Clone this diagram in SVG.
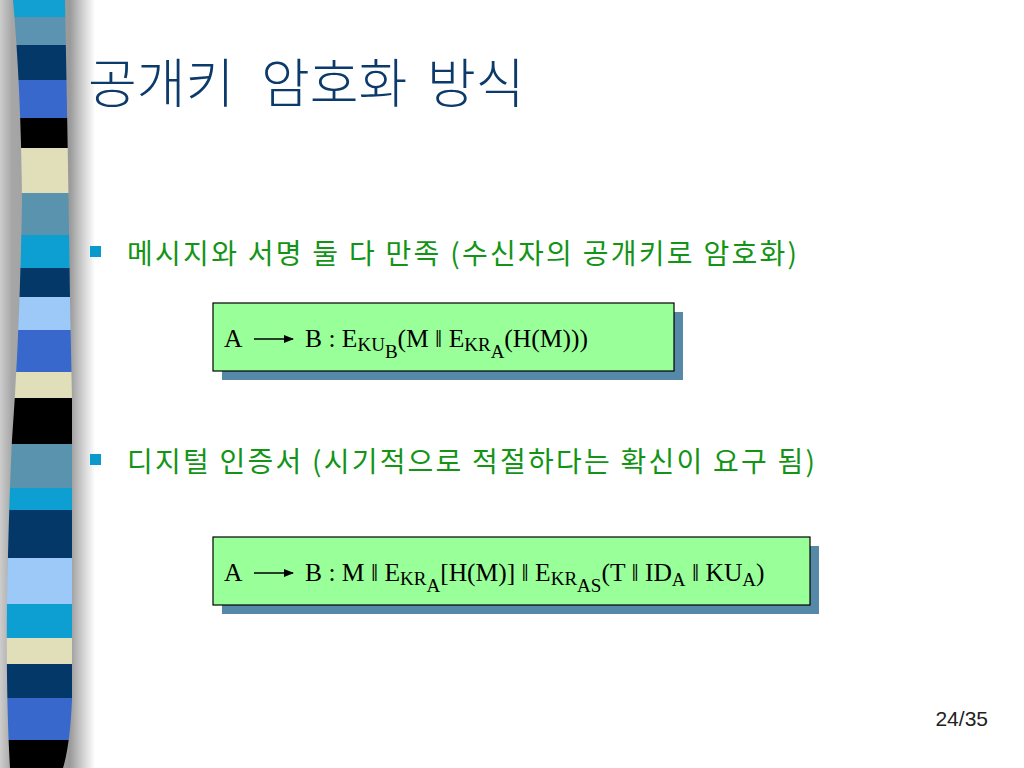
<svg xmlns="http://www.w3.org/2000/svg" width="1024" height="768" viewBox="0 0 1024 768">
<defs>
<linearGradient id="side" gradientUnits="userSpaceOnUse" x1="0" y1="0" x2="100" y2="0">
<stop offset="0" stop-color="#cdcdcd"/>
<stop offset="0.12" stop-color="#a6a6a6"/>
<stop offset="0.70" stop-color="#9a9a9a"/>
<stop offset="0.78" stop-color="#bdbdbd"/>
<stop offset="0.95" stop-color="#ffffff"/>
</linearGradient>
<clipPath id="stripClip">
<path d="M13,0 L65,0 Q68,150 70,300 L72,400 L72,700 Q70,745 63,768 L10,768 Q6,700 7,600 Q9,500 12,440 Q20,330 22,200 Q21,90 13,0 Z"/>
</clipPath>
<marker id="ah" viewBox="0 0 10 10" refX="9" refY="5" markerWidth="10" markerHeight="10" markerUnits="userSpaceOnUse" orient="auto">
<path d="M0,1 L10,5 L0,9 Z" fill="#000"/>
</marker>
<style>
.title{font-family:"Noto Sans CJK KR","Noto Sans",sans-serif;font-size:53px;fill:#0b3a6b;font-weight:300}
.bt{font-family:"Noto Sans CJK KR","Noto Sans",sans-serif;font-size:28px;fill:#139416}
.bul{fill:#0a99cc}
.box{fill:#99ff99;stroke:#000;stroke-width:1.2}
.shadow{fill:#5689a8}
.f{font-family:"Liberation Serif","Times New Roman",serif;font-size:25.5px;fill:#000}
.s{font-size:19px}
.m{font-size:25.5px}
.conn{stroke:#000;stroke-width:1.6;fill:none}
.pg{font-family:"Liberation Sans",Arial,sans-serif;font-size:21px;fill:#222}
</style>
</defs>
<rect width="1024" height="768" fill="#ffffff"/>
<g id="strip">
<rect x="0" y="0" width="100" height="768" fill="url(#side)"/>
<g clip-path="url(#stripClip)">
<rect x="0" y="0" width="80" height="17" fill="#12a0d3"/>
<rect x="0" y="17" width="80" height="28" fill="#5c93b0"/>
<rect x="0" y="45" width="80" height="35" fill="#043868"/>
<rect x="0" y="80" width="80" height="38" fill="#3868cc"/>
<rect x="0" y="118" width="80" height="30" fill="#000000"/>
<rect x="0" y="148" width="80" height="45" fill="#e1dfb9"/>
<rect x="0" y="193" width="80" height="42" fill="#5a93ad"/>
<rect x="0" y="235" width="80" height="33" fill="#0d9ed2"/>
<rect x="0" y="268" width="80" height="29" fill="#043868"/>
<rect x="0" y="297" width="80" height="33" fill="#9cc9f8"/>
<rect x="0" y="330" width="80" height="42" fill="#3868cc"/>
<rect x="0" y="372" width="80" height="26" fill="#e1dfb9"/>
<rect x="0" y="398" width="80" height="46" fill="#000000"/>
<rect x="0" y="444" width="80" height="44" fill="#5a93ad"/>
<rect x="0" y="488" width="80" height="22" fill="#0d9ed2"/>
<rect x="0" y="510" width="80" height="48" fill="#043868"/>
<rect x="0" y="558" width="80" height="46" fill="#9cc9f8"/>
<rect x="0" y="604" width="80" height="34" fill="#0d9ed2"/>
<rect x="0" y="638" width="80" height="26" fill="#e1dfb9"/>
<rect x="0" y="664" width="80" height="34" fill="#043868"/>
<rect x="0" y="698" width="80" height="42" fill="#3868cc"/>
<rect x="0" y="740" width="80" height="28" fill="#000000"/>
</g>
</g>
<g id="title">
<text class="title" x="88" y="103">공개키</text>
<text class="title" x="261" y="103">암호화</text>
<text class="title" x="427" y="103">방식</text>
</g>
<g id="bullet1">
<rect class="bul" x="90" y="246" width="11" height="11"/>
<text class="bt" x="127" y="264" textLength="670">메시지와 서명 둘 다 만족 (수신자의 공개키로 암호화)</text>
</g>
<g id="box1">
<rect class="shadow" x="222" y="312" width="461" height="68"/>
<rect class="box" x="213" y="303" width="461" height="68"/>
<text class="f" x="224" y="347">A</text>
<text class="f" x="305" y="347">B : E<tspan class="s" dy="4">KU</tspan><tspan class="s" dy="7">B</tspan><tspan class="m" dy="-11">(M ǁ E</tspan><tspan class="s" dy="4">KR</tspan><tspan class="s" dy="7">A</tspan><tspan class="m" dy="-11">(H(M)))</tspan></text>
</g>
<g id="bullet2">
<rect class="bul" x="90" y="454" width="11" height="11"/>
<text class="bt" x="127" y="472" textLength="688">디지털 인증서 (시기적으로 적절하다는 확신이 요구 됨)</text>
</g>
<g id="box2">
<rect class="shadow" x="222" y="546" width="597" height="68"/>
<rect class="box" x="213" y="537" width="597" height="68"/>
<text class="f" x="224" y="581">A</text>
<text class="f" x="305" y="581">B : M ǁ E<tspan class="s" dy="4">KR</tspan><tspan class="s" dy="7">A</tspan><tspan class="m" dy="-11">[H(M)] ǁ E</tspan><tspan class="s" dy="4">KR</tspan><tspan class="s" dy="7">AS</tspan><tspan class="m" dy="-11">(T ǁ ID</tspan><tspan class="s" dy="5">A</tspan><tspan class="m" dy="-5"> ǁ KU</tspan><tspan class="s" dy="5">A</tspan><tspan class="m" dy="-5">)</tspan></text>
</g>
<g id="connectors">
<line class="conn" x1="254" y1="339" x2="293" y2="339" marker-end="url(#ah)"/>
<line class="conn" x1="254" y1="573" x2="293" y2="573" marker-end="url(#ah)"/>
</g>
<g id="page">
<text class="pg" x="988" y="726" text-anchor="end">24/35</text>
</g>
</svg>
